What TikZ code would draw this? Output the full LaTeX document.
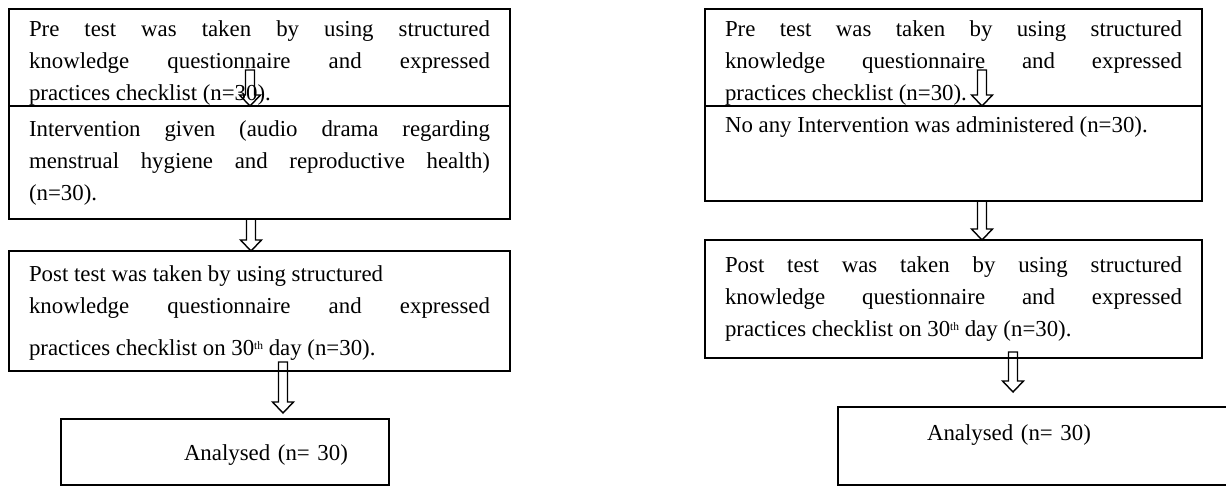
\documentclass[tikz,border=0pt]{standalone}
\usepackage{fontspec}
\setmainfont{Liberation Serif}
\usetikzlibrary{decorations.pathreplacing}
\tikzset{box/.style = {draw, line width=0.9pt, rectangle, anchor=north west,
                       inner xsep=0.4cm, inner ysep=0pt, outer sep=0pt,
                       align=justify, font=\fontsize{13}{18.2}\selectfont}}
\tikzset{hollow/.style = {decorate, decoration={show path construction,
                          lineto code={\draw [line width=0.8pt]
                            ([xshift=-0.09cm]\tikzinputsegmentfirst)
                            -- ([xshift=-0.09cm, yshift=0.22cm]\tikzinputsegmentlast)
                            -- ++(-0.12, 0) -- (\tikzinputsegmentlast) -- ++(0.21, 0.22)
                            -- ++(-0.12, 0) -- ([xshift=0.09cm]\tikzinputsegmentfirst)
                            -- cycle;}}}}
\newcommand{\thsup}{\raisebox{0.6ex}{\fontsize{6.5}{6.5}\selectfont th}}

\begin{document}
\begin{tikzpicture}
  \useasboundingbox (0, 0) rectangle (24.52, -9.74);

  \node [box, text width=9.22cm, text height=0.56cm, text depth=1.38cm] (preL) at (0.18, -0.18)
    {Pre test was taken by using structured\linebreak knowledge questionnaire and expressed\linebreak practices checklist (n=30).};
  \node [box, text width=9.22cm, text height=0.62cm, text depth=1.64cm] (intL) at (0.18, -2.12)
    {Intervention given (audio drama regarding\linebreak menstrual hygiene and reproductive health)\linebreak (n=30).};
  \node [box, text width=9.22cm, text height=0.62cm, text depth=1.78cm] (postL) at (0.18, -5.02)
    {Post test was taken by using structured\newline knowledge questionnaire and expressed\vspace{0.2cm}\linebreak practices checklist on 30\thsup\ day (n=30).};
  \node [box, text width=5.76cm, align=left, text height=0.82cm, text depth=0.5cm] (anaL) at (1.22, -8.38)
    {\hspace*{2.06cm}Analysed (n= 30)};

  \path [hollow] ([xshift=-0.19cm, yshift=0.72cm]preL.south) -- ([xshift=-0.19cm]preL.south);
  \path [hollow] ([xshift=-0.17cm]intL.south) -- ([xshift=-0.17cm]postL.north);
  \path [hollow] ([xshift=0.47cm, yshift=0.18cm]postL.south) -- ([xshift=1.16cm, yshift=0.12cm]anaL.north);

  \node [box, text width=9.14cm, text height=0.56cm, text depth=1.38cm] (preR) at (14.1, -0.18)
    {Pre test was taken by using structured\linebreak knowledge questionnaire and expressed\linebreak practices checklist (n=30).};
  \node [box, text width=9.14cm, text height=0.54cm, text depth=1.36cm] (noR) at (14.1, -2.12)
    {No any Intervention was administered (n=30).};
  \node [box, text width=9.14cm, text height=0.66cm, text depth=1.70cm] (postR) at (14.1, -4.8)
    {Post test was taken by using structured\linebreak knowledge questionnaire and expressed\linebreak practices checklist on 30\thsup\ day (n=30).};
  \node [box, text width=7.06cm, align=left, text height=0.66cm, text depth=0.9cm] (anaR) at (16.76, -8.14)
    {\hspace*{1.38cm}Analysed (n= 30)};

  \path [hollow] ([xshift=0.57cm, yshift=0.72cm]preR.south) -- ([xshift=0.57cm]preR.south);
  \path [hollow] ([xshift=0.57cm]noR.south) -- ([xshift=0.57cm]postR.north);
  \path [hollow] ([xshift=1.19cm, yshift=0.12cm]postR.south) -- ([xshift=-0.43cm, yshift=0.30cm]anaR.north);
\end{tikzpicture}
\end{document}
